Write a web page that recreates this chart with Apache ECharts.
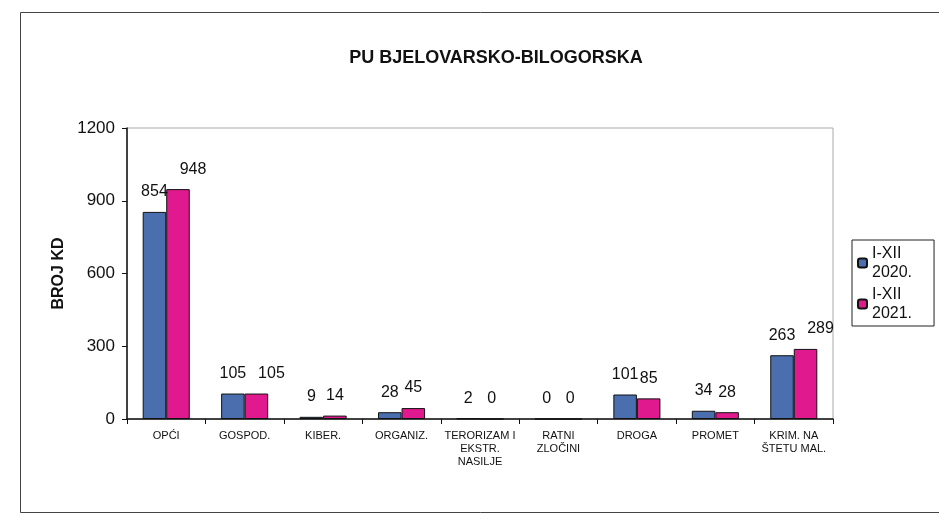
<!DOCTYPE html>
<html>
<head>
<meta charset="utf-8">
<script src="https://cdn.jsdelivr.net/npm/echarts@6/dist/echarts.min.js"></script>
<style>
  html, body { margin: 0; padding: 0; background: #fff; }
  #chart { width: 939px; height: 521px; }
</style>
</head>
<body>
<div id="chart"></div>
<script>
const categories = ["OPĆI", "GOSPOD.", "KIBER.", "ORGANIZ.", "TERORIZAM I\nEKSTR.\nNASILJE", "RATNI\nZLOČINI", "DROGA", "PROMET", "KRIM. NA\nŠTETU MAL."];
const values2020 = [854, 105, 9, 28, 2, 0, 101, 34, 263];
const values2021 = [948, 105, 14, 45, 0, 0, 85, 28, 289];
const seriesNames = ["I-XII\n2020.", "I-XII\n2021."];

const chart = echarts.init(document.getElementById("chart"));

const font = "Liberation Sans, Arial, sans-serif";

const labelStyle = {
  show: true,
  position: "top",
  color: "#111",
  fontFamily: font,
  fontSize: 16,
  distance: 12,
};

// three-digit labels of the second series sit a bit to the right, like Excel did
const data2021 = values2021.map((v) => ({ value: v, label: { offset: [v >= 100 ? 15 : 0, 0] } }));

const option = {
  animation: false,
  backgroundColor: "#fff",
  title: {
    text: "PU BJELOVARSKO-BILOGORSKA",
    left: 491,
    top: 44,
    textAlign: "center",
    textStyle: { fontFamily: font, fontSize: 18, fontWeight: "bold", color: "#111" },
  },
  legend: {
    orient: "vertical",
    left: 852,
    top: 240,
    itemWidth: 9,
    itemHeight: 9,
    itemGap: 3,
    padding: [4, 22, 3, 5],
    borderColor: "#222",
    borderWidth: 1,
    textStyle: { fontFamily: font, fontSize: 16, color: "#111", lineHeight: 19 },
    data: seriesNames,
  },
  grid: {
    left: 127,
    right: 106,
    top: 128,
    bottom: 102,
    show: true,
    borderColor: "#aaa",
    borderWidth: 1,
  },
  xAxis: {
    type: "category",
    data: categories,
    axisLine: { lineStyle: { color: "#111", width: 1.5 } },
    axisTick: { show: true, lineStyle: { color: "#111" } },
    axisLabel: {
      interval: 0,
      color: "#111",
      fontFamily: font,
      fontSize: 11,
      lineHeight: 13,
      margin: 10,
    },
  },
  yAxis: {
    type: "value",
    min: 0,
    max: 1200,
    interval: 300,
    name: "BROJ KD",
    nameLocation: "middle",
    nameGap: 47,
    nameTextStyle: { fontFamily: font, fontSize: 16, fontWeight: "bold", color: "#111" },
    axisLine: { show: true, lineStyle: { color: "#111", width: 1.5 } },
    axisTick: { show: true, lineStyle: { color: "#111" } },
    splitLine: { show: false },
    axisLabel: { color: "#111", fontFamily: font, fontSize: 17, margin: 12, formatter: (v) => String(v) },
  },
  series: [
    {
      name: seriesNames[0],
      type: "bar",
      data: values2020,
      barGap: "0%",
      barCategoryGap: "40%",
      itemStyle: { color: "#4a6eae", borderColor: "#111", borderWidth: 1 },
      label: labelStyle,
    },
    {
      name: seriesNames[1],
      type: "bar",
      data: data2021,
      barGap: "0%",
      barCategoryGap: "40%",
      itemStyle: { color: "#e01a8e", borderColor: "#111", borderWidth: 1 },
      label: labelStyle,
    },
  ],
  graphic: [
    {
      type: "rect",
      left: 18,
      top: 10,
      shape: { width: 925, height: 500 },
      style: { fill: "none", stroke: "#444", lineWidth: 1 },
      silent: true,
    },
  ],
};

chart.setOption(option);
</script>
</body>
</html>
